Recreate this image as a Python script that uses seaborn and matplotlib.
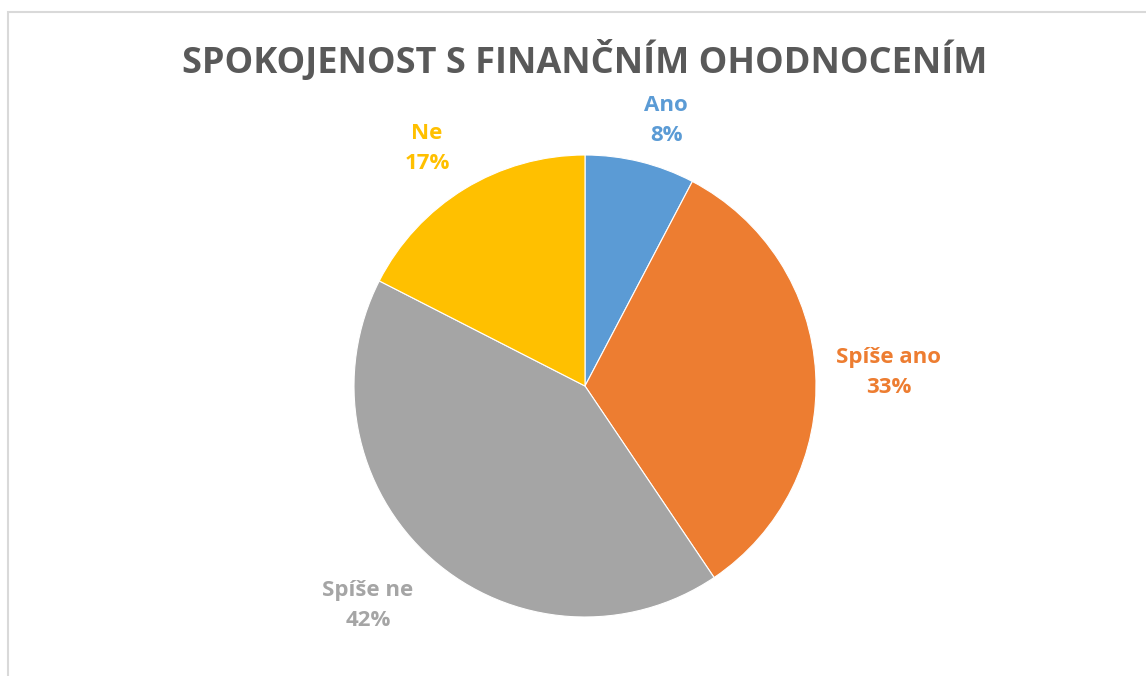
import numpy as np
import matplotlib
matplotlib.use("Agg")
import matplotlib.pyplot as plt
import seaborn as sns

# Data
categories = ["Ano", "Spíše ano", "Spíše ne", "Ne"]
counts = [11, 47, 60, 25]
colors = ["#5B9BD5", "#ED7D31", "#A5A5A5", "#FFC000"]
title = "SPOKOJENOST S FINANČNÍM OHODNOCENÍM"

sns.set_theme(style="white")
plt.rcParams['font.family'] = ['Open Sans', 'DejaVu Sans']

W, H = 1146, 676
fig = plt.figure(figsize=(W / 100, H / 100), dpi=100)
fig.patch.set_facecolor("white")

# border
fig.add_artist(plt.Rectangle((8 / W, -0.01), (W - 8) / W + 0.01, (H - 12) / H + 0.01,
                             transform=fig.transFigure, fill=False,
                             edgecolor="#d9d9d9", linewidth=1.5))

cx, cy, r = 585, 386, 231
ax = fig.add_axes([(cx - r) / W, (H - cy - r) / H, 2 * r / W, 2 * r / H])
wedges, _ = ax.pie(counts, colors=colors, startangle=90, counterclock=False,
                   radius=1.0, wedgeprops=dict(linewidth=0.8, edgecolor="white"))
ax.set_xlim(-1, 1)
ax.set_ylim(-1, 1)
ax.set_aspect("equal")
ax.axis("off")

total = sum(counts)
label_pos = [(0.351, 1.150), (1.316, 0.059), (-0.939, -0.949), (-0.684, 1.029)]
for cat, c, col, (x, y) in zip(categories, counts, colors, label_pos):
    ax.text(x, y, f"{cat}\n{round(100 * c / total)}%", ha="center", va="center",
            color=col, fontsize=16, fontweight="bold", linespacing=1.55,
            clip_on=False)

fig.text(cx / W, 1 - 61 / H, title, ha="center", va="center", color="#595959",
         fontsize=26, fontweight="bold")

fig.savefig("out.png", dpi=100, facecolor="white")
